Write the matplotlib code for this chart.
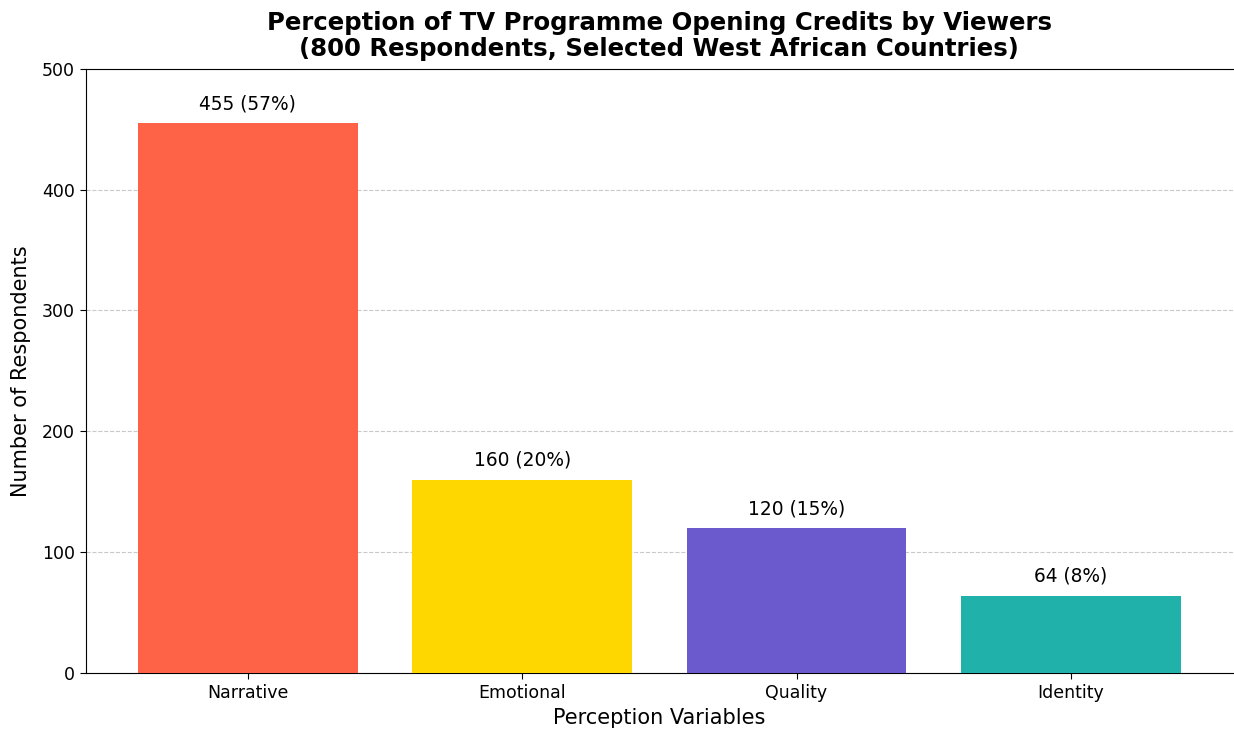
import matplotlib
matplotlib.use("Agg")
import matplotlib.pyplot as plt

categories = ["Narrative", "Emotional", "Quality", "Identity"]
respondents = [455, 160, 120, 64]
percentages = [57, 20, 15, 8]
colors = ["#FF6347", "#FFD700", "#6A5ACD", "#20B2AA"]

fig, ax = plt.subplots(figsize=(12.34, 7.33), dpi=100)
fig.subplots_adjust(left=0.0697, right=0.999, top=0.906, bottom=0.082)

bars = ax.bar(categories, respondents, color=colors, width=0.8, zorder=3)
for bar, n, p in zip(bars, respondents, percentages):
    ax.text(bar.get_x() + bar.get_width() / 2, n + 8, f"{n} ({p}%)",
            ha="center", va="bottom", fontsize=13.4)

ax.set_ylim(0, 500)
ax.set_title("Perception of TV Programme Opening Credits by Viewers\n"
             "(800 Respondents, Selected West African Countries)",
             fontsize=17.6, fontweight="bold", linespacing=1.12, pad=9)
ax.set_xlabel("Perception Variables", fontsize=15)
ax.set_ylabel("Number of Respondents", fontsize=15, labelpad=8)
ax.tick_params(axis="both", labelsize=12.5, length=4.5)
ax.yaxis.grid(True, linestyle="--", color="#bbbbbb", alpha=0.8, zorder=0)
ax.spines["right"].set_visible(False)

fig.savefig("out.png", dpi=100)
